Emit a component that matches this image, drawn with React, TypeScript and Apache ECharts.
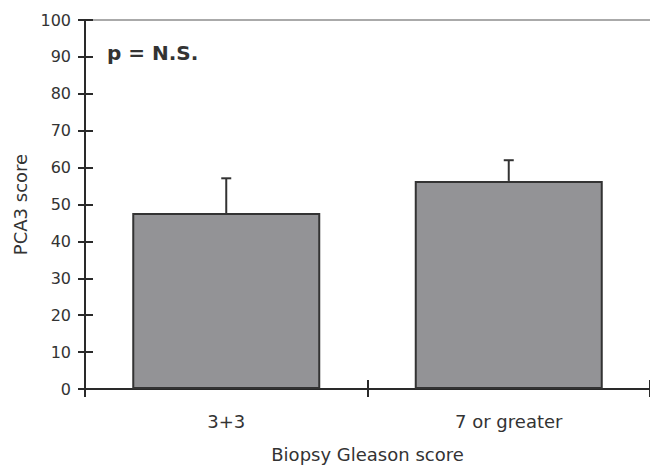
import React, { useEffect, useRef } from "react";
import * as echarts from "echarts";

const categories = ["3+3", "7 or greater"];
const means = [47.7, 56.4];
const upperErrors = [57.1, 62.0];
const yMin = 0;
const yMax = 100;
const yInterval = 10;
const annotation = "p = N.S.";

const FONT = "DejaVu Sans";
const TEXT = "#333";
const AXIS = "#2a2a2a";

export default function App() {
  const ref = useRef<HTMLDivElement>(null);
  useEffect(() => {
    if (!ref.current) return;
    document.body.style.margin = "0";
    document.body.style.overflow = "hidden";
    const chart = echarts.init(ref.current, null, { renderer: "svg" });
    const option: any = {
      animation: false,
      backgroundColor: "#fff",
      grid: { left: 85, width: 572, top: 20, bottom: 75, containLabel: false },
      xAxis: [
        {
          type: "category",
          data: categories,
          position: "bottom",
          name: "Biopsy Gleason score",
          nameLocation: "middle",
          nameGap: 56,
          nameTextStyle: { fontFamily: FONT, fontSize: 18, color: TEXT },
          axisLine: { lineStyle: { color: AXIS, width: 2 } },
          axisTick: { show: true, length: 8, lineStyle: { color: AXIS, width: 2 } },
          axisLabel: { fontFamily: FONT, fontSize: 18, color: TEXT, margin: 23 },
        },
        {
          type: "category",
          data: categories,
          position: "bottom",
          axisLine: { show: false },
          axisTick: { show: true, inside: true, length: 9, lineStyle: { color: AXIS, width: 2 } },
          axisLabel: { show: false },
        },
        {
          type: "category",
          data: categories,
          position: "top",
          axisLine: { lineStyle: { color: "#aaa", width: 2 } },
          axisTick: { show: false },
          axisLabel: { show: false },
        },
      ],
      yAxis: [
        {
          type: "value",
          min: yMin,
          max: yMax,
          interval: yInterval,
          position: "left",
          name: "PCA3 score",
          nameLocation: "middle",
          nameGap: 54,
          nameTextStyle: { fontFamily: FONT, fontSize: 18, color: TEXT },
          axisLine: { show: true, lineStyle: { color: AXIS, width: 2 } },
          axisTick: { show: true, length: 7, lineStyle: { color: AXIS, width: 2 } },
          axisLabel: { fontFamily: FONT, fontSize: 16, color: TEXT, margin: 14 },
          splitLine: { show: false },
        },
        {
          type: "value",
          min: yMin,
          max: yMax,
          interval: yInterval,
          position: "left",
          axisLine: { show: false },
          axisTick: { show: true, inside: true, length: 8, lineStyle: { color: AXIS, width: 2 } },
          axisLabel: { show: false },
          splitLine: { show: false },
        },
      ],
      series: [
        {
          type: "bar",
          xAxisIndex: 0,
          yAxisIndex: 0,
          data: means,
          barWidth: 188,
          itemStyle: { color: "#939396", borderColor: "#333", borderWidth: 2 },
          z: 2,
        },
        {
          type: "custom",
          xAxisIndex: 0,
          yAxisIndex: 0,
          data: categories.map((_, i) => [i, means[i], upperErrors[i]]),
          z: 3,
          renderItem: (params: any, api: any) => {
            const base = api.coord([api.value(0), api.value(1)]);
            const top = api.coord([api.value(0), api.value(2)]);
            const cap = 5;
            const style = { stroke: "#333", lineWidth: 2 };
            return {
              type: "group",
              children: [
                { type: "line", shape: { x1: base[0], y1: base[1], x2: top[0], y2: top[1] }, style },
                { type: "line", shape: { x1: top[0] - cap, y1: top[1], x2: top[0] + cap, y2: top[1] }, style },
              ],
            };
          },
        },
      ],
      graphic: [
        {
          type: "text",
          left: 107,
          top: 43,
          style: { text: annotation, fontFamily: FONT, fontSize: 20, fontWeight: "bold", fill: TEXT },
        },
      ],
    };
    chart.setOption(option);
    return () => chart.dispose();
  }, []);
  return (
    <div
      ref={ref}
      style={{ position: "fixed", left: 0, top: 0, width: 650, height: 468, overflow: "hidden" }}
    />
  );
}
